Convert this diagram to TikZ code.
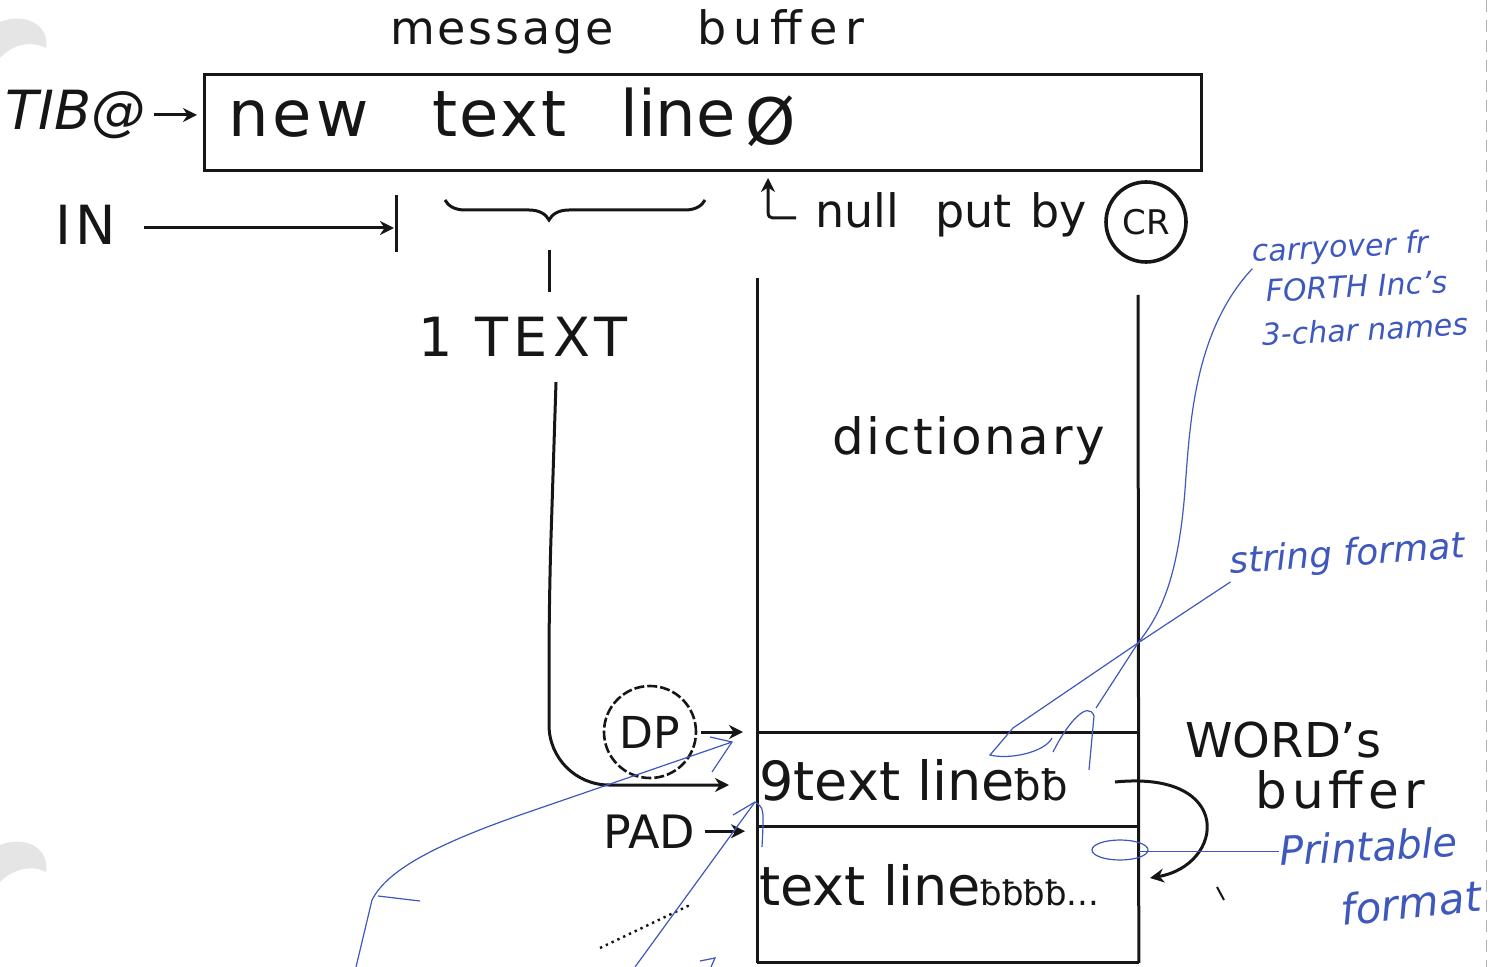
\documentclass[tikz,border=0pt]{standalone}
\usepackage{fontspec}
\setmainfont{DejaVu Sans}
\usetikzlibrary{arrows.meta,decorations.pathreplacing,calc}
\definecolor{ink}{RGB}{22,22,22}
\definecolor{pen}{RGB}{62,88,190}
\newcommand{\fsz}[1]{\fontsize{#1}{#1}\selectfont}
\newcommand{\lsp}[1]{\addfontfeature{LetterSpace=#1}}
\begin{document}
\begin{tikzpicture}[x=0.5pt,y=-0.5pt,
  inkline/.style={draw=ink,line width=1.5pt},
  arr/.style={-{Stealth[length=7pt,width=7pt]}},
  lbl/.style={text=ink,inner sep=0pt},
  note/.style={text=pen,inner sep=0pt,font=\itshape},
  penline/.style={draw=pen,line width=0.6pt},
  cellbox/.style={minimum width=190.5pt,inner sep=0pt,anchor=north west}]
\useasboundingbox (0,0) rectangle (1503,967);
% paper artefacts
\fill[black!10] (0,22) .. controls (25,12) and (50,25) .. (46,48) .. controls (30,40) and (12,45) .. (0,58) -- cycle;
\fill[black!10] (0,845) .. controls (25,835) and (50,848) .. (46,872) .. controls (30,864) and (12,870) .. (0,882) -- cycle;
\draw[black!30,dash pattern=on 6pt off 4pt,line width=0.5pt] (1486,0) -- (1486,967);

% message buffer
\node[lbl,font=\fsz{23}\lsp{6},anchor=base west] (msg) at (390,45) {message};
\node[lbl,font=\fsz{23}\lsp{16},anchor=base west] (buf) at (697,45) {buf{}fer};
\node[draw=ink,line width=1.5pt,minimum width=498.5pt,minimum height=48pt,anchor=north west,inner sep=0pt] (tib) at (203,73) {};
\node[lbl,font=\fsz{32}\lsp{6},anchor=base west] (w1) at (228,137) {new};
\node[lbl,font=\fsz{32}\lsp{4},anchor=base west] (w2) at (432,137) {text};
\node[lbl,font=\fsz{32},anchor=base west] (w3) at (620,137) {line};
\node[lbl,font=\fsz{32},anchor=base west] (w4) at (745,145) {Ø};
\node[lbl,font=\itshape\fsz{27},anchor=base west] (tiblbl) at (5,130) {TIB@};
\draw[inkline,arr,shorten <=4pt,shorten >=3pt] (tiblbl.east) -- (tiblbl.east -| tib.west);

% IN
\node[lbl,font=\fsz{27}\lsp{8},anchor=base west] (in) at (55,245) {IN};
\coordinate (inbar) at (396,228);
\coordinate (inbarT) at (396,195);
\coordinate (inbarB) at (396,252);
\draw[inkline,arr,shorten <=14pt,shorten >=1pt] (in.east |- inbar) -- (inbar);
\draw[inkline] (inbarT) -- (inbarB);

% brace and 1 TEXT
\coordinate (brL) at (445,200);
\coordinate (brR) at (705,200);
\draw[inkline,decorate,decoration={brace,mirror,amplitude=10pt,aspect=0.4}] (brL) -- (brR);
\coordinate (stT) at (549,250);
\coordinate (stB) at (549,292);
\draw[inkline] (stT) -- (stB);
\node[lbl,font=\fsz{27}\lsp{10},anchor=base west] (txt) at (418,357) {1 TEXT};

% null put by CR
\coordinate (hkS) at (796,218);
\coordinate (hkE) at (768,178);
\draw[inkline,arr] (hkS) -- (778,218) .. controls (768,218) .. (768,206) -- (hkE);
\node[lbl,font=\fsz{23},anchor=base west] (nul) at (815,228) {null};
\node[lbl,font=\fsz{23},anchor=base west] (put) at (935,228) {put};
\node[lbl,font=\fsz{23},anchor=base west] (by) at (1030,228) {by};
\node[circle,draw=ink,line width=1.8pt,minimum size=40pt,inner sep=0pt,font=\fsz{17},text=ink] (cr) at (1146,222) {CR};

% dictionary column
\coordinate (dL) at (757,278);
\coordinate (dR) at (1138,295);
\node[cellbox,minimum height=47pt] (cell1) at (757,732) {};
\node[cellbox,minimum height=68pt] (cell2) at (757,826) {};
\draw[inkline] (dL) -- (cell2.south west);
\draw[inkline] (dR) -- (cell2.south east);
\draw[inkline] (cell1.north west) -- (cell1.north east);
\draw[inkline] (cell2.north west) -- (cell2.north east);
\draw[inkline] (cell2.south west) -- (cell2.south east);
\node[lbl,font=\fsz{25}\lsp{5},anchor=base west] (dict) at (832,455) {dictionary};
\node[lbl,font=\fsz{27},anchor=base west] (row1) at (759,800) {9text line\fsz{21}ƀƀ};
\node[lbl,font=\fsz{27},anchor=base west] (row2) at (759,905) {text line\fsz{17}ƀƀƀƀ...};

% 1 TEXT -> buffer
\coordinate (tS) at (556,382);
\draw[inkline,arr,rounded corners=30pt,shorten >=14pt] (tS) -- (549,600) -- (549,785) -- (cell1.west |- 0,785);

% DP and PAD
\node[circle,draw=ink,line width=1.3pt,dash pattern=on 5pt off 1.5pt,minimum size=46pt,inner sep=0pt,font=\fsz{22},text=ink] (dp) at (650,732) {DP};
\draw[inkline,arr,shorten <=2pt,shorten >=7pt] (dp.east) -- (dp.east -| cell1.west);
\node[lbl,font=\fsz{23},anchor=base west] (pad) at (603,848) {PAD};
\draw[inkline,arr,shorten <=5pt,shorten >=6pt] (pad.east) -- (pad.east -| cell2.west);

% WORD's buffer
\node[lbl,font=\fsz{24},anchor=base west] (word) at (1185,757) {WORD's};
\node[lbl,font=\fsz{25}\lsp{10},anchor=base west] (wbuf) at (1255,808) {buf{}fer};
\coordinate (cvS) at (1115,782);
\coordinate (cvE) at (1150,878);
\draw[inkline,arr] (cvS) .. controls (1235,770) and (1225,865) .. (cvE);

% stray marks
\draw[ink,dotted,line width=1.2pt] (600,948) -- (690,905);
\draw[ink,line width=1pt] (1217,887) -- (1224,900);

% blue notes
\node[note,font=\itshape\fsz{15},rotate=3,anchor=base west] (n1) at (1252,262) {carryover fr};
\node[note,font=\itshape\fsz{15},rotate=3,anchor=base west] (n2) at (1266,302) {FORTH Inc's};
\node[note,font=\itshape\fsz{15},rotate=3,anchor=base west] (n3) at (1262,346) {3-char names};
\node[note,font=\itshape\fsz{18},rotate=4,anchor=base west] (n4) at (1230,574) {string format};
\node[note,font=\itshape\fsz{20},rotate=3,anchor=base west] (n5) at (1280,866) {Printable};
\node[note,font=\itshape\fsz{21},rotate=6,anchor=base west] (n6) at (1342,926) {format};

\coordinate (jn) at (1138,643);
\draw[penline] (n1.south west) .. controls (1195,330) and (1190,420) .. (1185,490) .. controls (1178,580) and (1160,615) .. (jn);
\draw[penline] (n4.south west) -- (jn);
\draw[penline] (jn) -- (1013,728) -- (990,755) .. controls (1010,760) and (1045,752) .. (1052,738);
\draw[penline] (jn) -- (1096,708);
\draw[penline] (1053,752) .. controls (1068,722) and (1088,700) .. (1094,716) -- (1089,770);
\draw[penline] (n5.west) -- (n5.west -| cell2.east);
\draw[penline] (1120,850) ellipse [x radius=14pt, y radius=5pt];

\coordinate (bl1) at (732,742);
\draw[penline] (710,737) -- (bl1) -- (712,772);
\draw[penline] (bl1) -- (520,815) .. controls (420,850) and (385,875) .. (372,900) -- (356,967);
\draw[penline] (378,896) -- (420,901);
\coordinate (bl2) at (755,802);
\draw[penline] (733,815) -- (bl2) .. controls (764,808) .. (762,847);
\draw[penline] (bl2) -- (635,967);
\draw[penline] (700,961) -- (715,958) -- (711,967);
\end{tikzpicture}
\end{document}
